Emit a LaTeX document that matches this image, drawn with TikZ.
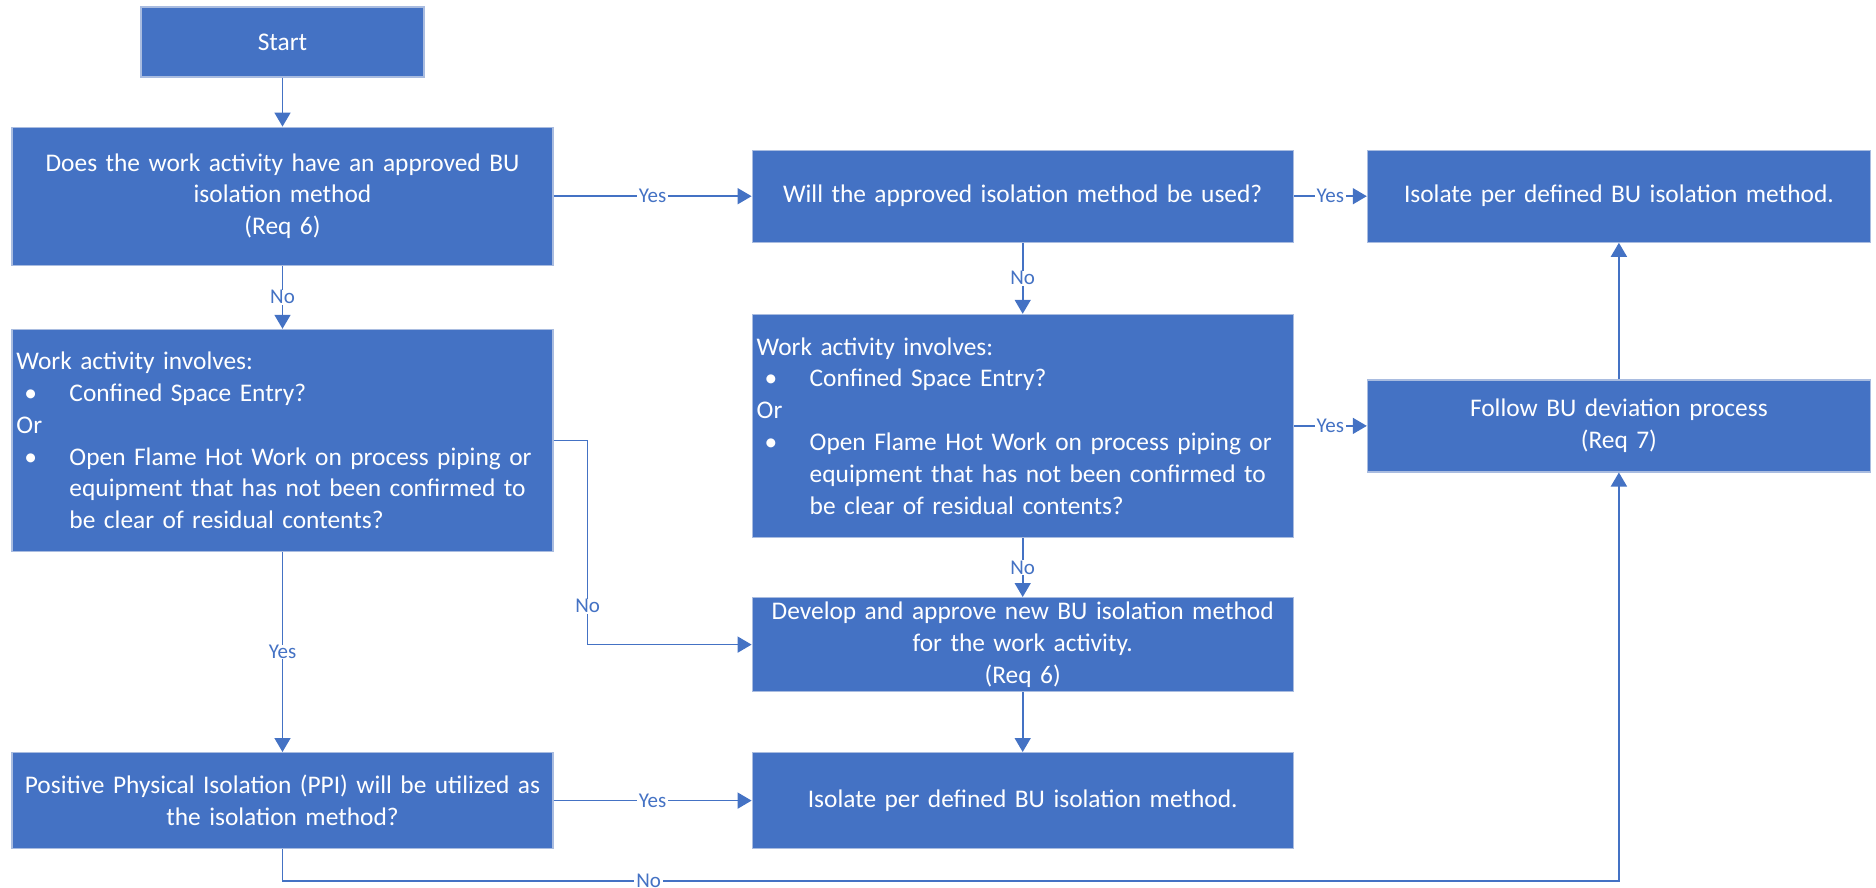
\documentclass[tikz,border=0pt]{standalone}
\usepackage{fontspec}
\setmainfont{Carlito}
\usepackage{tikz}
\usetikzlibrary{arrows.meta, positioning}
\definecolor{flowblue}{HTML}{4472C4}
\definecolor{flowedge}{HTML}{A9BCE0}
\newcommand{\bulletitem}{\hspace*{4pt}\makebox[22.5pt][l]{\textbullet}}
\newcommand{\hangpad}{\hspace*{26.5pt}}

\begin{document}
\begin{tikzpicture}[
    font=\fontsize{12.7}{15.9}\selectfont,
    block/.style={rectangle, draw=flowedge, line width=0.6pt, fill=flowblue, text=white, align=center, inner xsep=2pt, inner ysep=1pt},
    colwide/.style={minimum width=270.5pt, text width=266pt},
    colnarrow/.style={minimum width=251.5pt, text width=247pt},
    arrow/.style={-{Triangle[length=7pt, width=8pt]}, draw=flowblue, line width=0.8pt},
    answer/.style={fill=white, text=flowblue, font=\fontsize{10.5}{12}\selectfont, inner xsep=1pt, inner ysep=0.3pt}
]
\useasboundingbox (0,0) rectangle (938pt,-444pt);

% Nodes
\node[block, minimum width=141.5pt, minimum height=35pt] (start) at (141.25pt,-21pt) {Start};
\node[block, colwide, minimum height=69pt, below=24.5pt of start] (hasmethod) {Does the work activity have an approved BU\\ isolation method\\ (Req 6)};
\node[block, colwide, minimum height=46pt, right=99pt of hasmethod] (usemethod) {Will the approved isolation method be used?};
\node[block, colnarrow, minimum height=46pt, right=36.5pt of usemethod] (isolatetop) {Isolate per defined BU isolation method.};

\node[block, colwide, minimum height=111pt, align=left, below=31.5pt of hasmethod] (involvesleft) {Work activity involves:\\
\bulletitem Confined Space Entry?\\
Or\\
\bulletitem Open Flame Hot Work on process piping or\\
\hangpad equipment that has not been confirmed to\\
\hangpad be clear of residual contents?};
\node[block, colwide, minimum height=111.5pt, align=left, below=35.5pt of usemethod] (involvesright) {Work activity involves:\\
\bulletitem Confined Space Entry?\\
Or\\
\bulletitem Open Flame Hot Work on process piping or\\
\hangpad equipment that has not been confirmed to\\
\hangpad be clear of residual contents?};
\node[block, colnarrow, minimum height=46pt, right=36.5pt of involvesright] (deviation) {Follow BU deviation process\\ (Req 7)};
\node[block, colwide, minimum height=47pt, below=29.5pt of involvesright] (develop) {Develop and approve new BU isolation method\\ for the work activity.\\ (Req 6)};

\node[block, colwide, minimum height=48pt, below=100pt of involvesleft] (ppi) {Positive Physical Isolation (PPI) will be utilized as\\ the isolation method?};
\node[block, colwide, minimum height=48pt, right=99pt of ppi] (isolatebottom) {Isolate per defined BU isolation method.};

% Arrows
\draw[arrow] (start) -- (hasmethod);
\draw[arrow] (hasmethod) -- node[answer] {Yes} (usemethod);
\draw[arrow] (usemethod) -- node[answer] {Yes} (isolatetop);
\draw[arrow] (hasmethod) -- node[answer] {No} (involvesleft);
\draw[arrow] (usemethod) -- node[answer] {No} (involvesright);
\draw[arrow] (involvesright) -- node[answer] {Yes} (deviation);
\draw[arrow] (involvesright) -- node[answer] {No} (develop);
\draw[arrow] (involvesleft) -- node[answer] {Yes} (ppi);
\draw[arrow] (involvesleft.east) -- ++(17pt,0) |- node[answer, pos=0.406] {No} (develop.west);
\draw[arrow] (develop) -- (isolatebottom);
\draw[arrow] (ppi) -- node[answer] {Yes} (isolatebottom);
\draw[arrow] (ppi.south) -- ++(0,-16pt) -| node[answer, pos=0.137] {No} (deviation.south);
\draw[arrow] (deviation) -- (isolatetop);

\end{tikzpicture}
\end{document}
